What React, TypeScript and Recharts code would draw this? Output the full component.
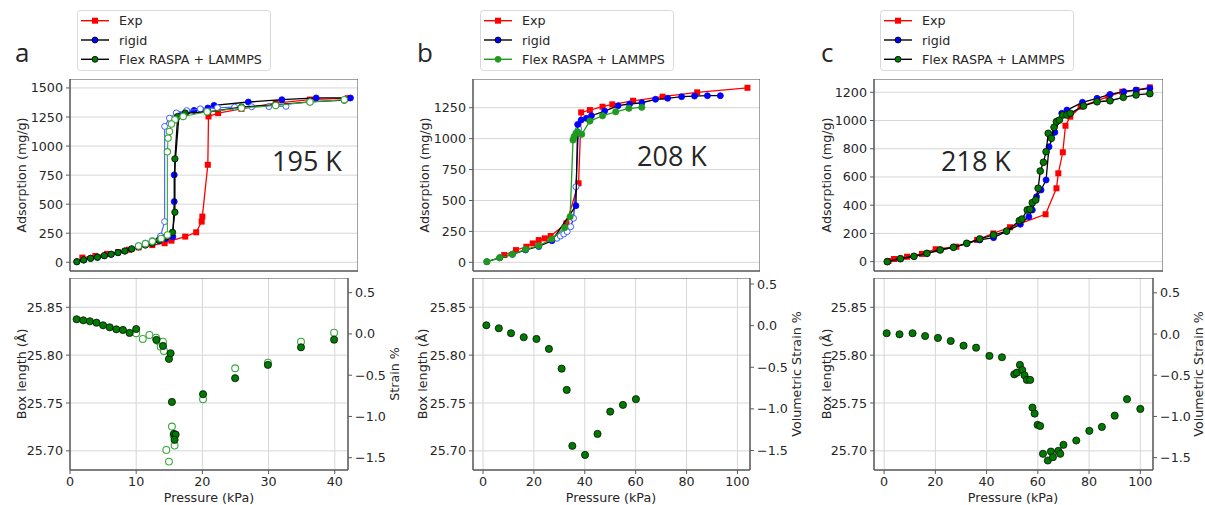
import React from 'react';
import { ComposedChart, Scatter, XAxis, YAxis, CartesianGrid, ReferenceArea } from 'recharts';

// ---- panel a (195 K) ----
const aExpP = [1.8, 3.7, 5.4, 7.0, 8.6, 10.0, 12.0, 13.8, 14.8, 16.8, 18.4, 19.2, 19.3, 20.1, 20.2, 21.6, 25.0, 30.0, 35.0, 40.5];
const aExpAds = [40, 54, 72, 88, 108, 128, 148, 164, 186, 221, 258, 350, 393, 839, 1255, 1284, 1320, 1370, 1400, 1412];
const aRigidAdsP = [1, 2, 3, 4, 5, 6, 7, 8, 9, 10, 11, 12, 13, 14, 15.0, 15.2, 15.2, 15.9, 17.1, 18.1, 19.1, 20.1, 21.0, 26.0, 30.9, 35.9, 40.9];
const aRigidAds = [5, 20, 34, 43, 57, 69, 83, 97, 115, 134, 150, 165, 185, 205, 220, 522, 752, 1270, 1298, 1307, 1313, 1327, 1350, 1379, 1399, 1414, 1414];
const aRigidDesP = [31.5, 29, 26.5, 24, 21.5, 19, 17, 15.5, 14.5, 13.8, 13.8, 13.2, 12.0, 11.0, 10.0];
const aRigidDes = [1342, 1340, 1338, 1335, 1330, 1320, 1305, 1285, 1240, 1169, 350, 225, 185, 165, 143];
const aFlexAdsP = [1, 2, 3, 4, 5, 6, 7, 8, 9, 10, 11, 12, 13, 14.05, 14.95, 15.3, 15.3, 15.7, 16.8, 20.1, 25, 30, 35, 40];
const aFlexAds = [5, 20, 34, 43, 57, 69, 83, 97, 115, 134, 148, 163, 190, 221, 258, 431, 890, 1255, 1284, 1293, 1335, 1355, 1380, 1395];
const aFlexDesP = [40, 35, 30, 25, 20, 16.5, 15.3, 14.8, 14.5, 14.3, 14.2, 14.2, 13.3, 12, 11, 10];
const aFlexDes = [1399, 1379, 1350, 1327, 1295, 1255, 1227, 1190, 1126, 1069, 950, 235, 205, 180, 160, 140];
const aBoxAdsP = [1, 2, 3, 4, 5, 6, 7, 8, 9, 10, 13.05, 14.05, 14.95, 15.2, 15.4, 15.7, 15.96, 15.8, 20.1, 24.95, 29.9, 34.9, 39.9];
const aBoxAds = [25.8375, 25.8364, 25.8354, 25.8339, 25.8312, 25.8291, 25.827, 25.8263, 25.8232, 25.8273, 25.8159, 25.8096, 25.796, 25.802, 25.7511, 25.7177, 25.717, 25.7115, 25.7592, 25.7759, 25.7898, 25.8082, 25.8162];
const aBoxDesP = [10, 11, 12, 13, 13.3, 13.7, 14.05, 14.2, 14.55, 14.95, 15.4, 15.65, 15.8, 20.1, 24.95, 29.9, 34.9, 39.9];
const aBoxDes = [25.8229, 25.8169, 25.8211, 25.8183, 25.8148, 25.8089, 25.8141, 25.8044, 25.701, 25.6888, 25.7254, 25.716, 25.7055, 25.754, 25.7863, 25.7922, 25.8141, 25.8235];

// ---- panel b (208 K) ----
const bExpP = [7.9, 12.35, 16.3, 18.7, 21.0, 23.3, 25.5, 31.5, 36.1, 37.1, 40.4, 45.2, 48.9, 56.8, 68.0, 81.1, 100.2];
const bExpAds = [59, 99, 126, 153, 180, 194, 213, 315, 639, 1212, 1231, 1258, 1277, 1306, 1339, 1374, 1411];
const bRigidAdsP = [1.3, 6.2, 11.0, 16.0, 21.0, 26.0, 35.1, 35.75, 37.1, 39.05, 41.0, 46.0, 51.1, 55.5, 60.1, 65.3, 69.9, 75.2, 80.1, 85.0, 89.9];
const bRigidAds = [5, 37, 65, 100, 128, 175, 458, 1115, 1150, 1164, 1185, 1223, 1266, 1280, 1290, 1318, 1326, 1339, 1344, 1347, 1347];
const bRigidDesP = [27.9, 29.2, 30.5, 31.8, 33.1, 34.2, 35.1, 36.1];
const bRigidDes = [194, 213, 229, 248, 288, 356, 611, 1078];
const bFlexP = [1.3, 6.2, 11.0, 16.0, 21.0, 25.9, 30.8, 32.9, 34.0, 34.4, 35.1, 35.7, 37.3, 40.4, 45.2, 50.2, 55.2, 60.1];
const bFlexAds = [5, 37, 65, 105, 134, 188, 280, 369, 989, 1015, 1043, 1056, 1035, 1142, 1185, 1217, 1245, 1253];
const bBoxP = [1.3, 6.2, 11.0, 16.0, 21.0, 25.9, 30.9, 32.9, 35.1, 40.1, 45.0, 50.0, 55.0, 60.1];
const bBox = [25.8312, 25.8281, 25.8229, 25.8187, 25.8169, 25.8065, 25.7859, 25.7637, 25.7052, 25.6958, 25.7177, 25.741, 25.748, 25.754];

// ---- panel c (218 K) ----
const cExpP = [1.5, 3.6, 8.5, 14.1, 19.3, 27.1, 34.9, 41, 47.3, 60.7, 64.8, 65.5, 67.2, 68.2, 70.0, 73.9, 84.4, 89.6, 95, 100];
const cExpAds = [5, 19, 35, 55, 88, 106, 154, 200, 244, 336, 520, 626, 775, 963, 1027, 1098, 1169, 1204, 1215, 1235];
const cRigidP = [1.05, 6.0, 11.1, 16.0, 21.0, 26.0, 31.0, 35.9, 41.1, 46.0, 51.2, 54.4, 55.7, 57.3, 59.0, 60.9, 62.0, 64.2, 66.8, 68.75, 74.6, 80.1, 85.0, 90.2, 94.8, 100];
const cRigidAds = [0, 21, 38, 59, 83, 102, 130, 154, 170, 215, 265, 319, 366, 460, 508, 579, 814, 916, 1051, 1074, 1129, 1157, 1185, 1204, 1216, 1228];
const cFlexP = [1.05, 6.0, 11.1, 16.0, 21.0, 26.0, 31.0, 35.9, 41.1, 46.0, 50.8, 51.8, 53.8, 54.8, 55.7, 57.0, 57.9, 58.7, 59.9, 60.9, 61.7, 62.9, 63.9, 64.8, 65.9, 67.2, 68.75, 70.0, 75.0, 80.1, 85.0, 90.0, 94.8, 100];
const cFlexAds = [0, 21, 38, 59, 83, 102, 130, 161, 189, 217, 290, 302, 366, 371, 418, 437, 520, 642, 704, 779, 909, 874, 952, 992, 1003, 1039, 1039, 1051, 1103, 1133, 1140, 1164, 1181, 1190];
const cBoxP = [1.0, 6.0, 11.1, 16.0, 21.0, 26.0, 31.0, 35.9, 41.1, 46.0, 50.8, 51.8, 53.0, 53.9, 54.8, 55.7, 57.0, 57.9, 58.75, 59.9, 60.9, 62.0, 63.9, 65.1, 65.9, 68.0, 68.75, 70.0, 75.0, 80.1, 85.0, 90.0, 94.8, 100];
const cBox = [25.8229, 25.8218, 25.8229, 25.820, 25.818, 25.8148, 25.8099, 25.8078, 25.7992, 25.7978, 25.78, 25.7817, 25.7898, 25.7845, 25.779, 25.7741, 25.7741, 25.7452, 25.7389, 25.7271, 25.726, 25.6969, 25.6899, 25.6993, 25.6934, 25.70, 25.6969, 25.7063, 25.7108, 25.7209, 25.725, 25.7368, 25.754, 25.7438];

// ticks
const xTicksA = [0, 10, 20, 30, 40];
const xTicksBC = [0, 20, 40, 60, 80, 100];
const yTicksA = [0, 250, 500, 750, 1000, 1250, 1500];
const yTicksB = [0, 250, 500, 750, 1000, 1250];
const yTicksC = [0, 200, 400, 600, 800, 1000, 1200];
const boxTicks = [25.7, 25.75, 25.8, 25.85];
const strainTicks = [-1.5, -1.0, -0.5, 0.0, 0.5];
const legendLabels = ['Exp', 'rigid', 'Flex RASPA + LAMMPS'];

const pts = (xs: number[], ys: number[]) => xs.map((x, i) => ({ x, y: ys[i] }));

const FONT = 'DejaVu Sans';
const TXT = '#262626';
const SPINE = '#5a5a5a';
const FS = 12.7;
const RED = '#ff0000';
const BLUE = '#0000ff';
const GREEN = '#007a00';
const OPEN_GREEN = '#3aa83a';
const OPEN_BLUE = '#4060ff';
const B_GREEN = '#1f9a1f';

const square = (fill: string) => (p: any) => (
  <rect x={p.cx - 3} y={p.cy - 3} width={6} height={6} fill={fill} />
);
const circle = (fill: string, stroke: string, r = 3.2, sw = 0.8) => (p: any) => (
  <circle cx={p.cx} cy={p.cy} r={r} fill={fill} stroke={stroke} strokeWidth={sw} />
);

const minus = (s: string) => s.replace('-', '\u2212');
const fmtInt = (v: number) => String(v);
const fmt2 = (v: number) => v.toFixed(2);
const fmt1 = (v: number) => minus(v.toFixed(1));

type PanelProps = {
  left: number;
  top: number;
  w: number;
  h: number;
  xDomain: number[];
  xTicks: number[];
  yDomain: number[];
  yTicks: number[];
  yFmt: (v: number) => string;
  xLabels: boolean;
  rDomain?: number[];
  children?: React.ReactNode;
};

const tickStyle = { fill: TXT, fontSize: FS, fontFamily: FONT };

function Panel({ left, top, w, h, xDomain, xTicks, yDomain, yTicks, yFmt, xLabels, rDomain, children }: PanelProps) {
  const YW = 60;
  const RW = rDomain ? 50 : 10;
  const XH = 30;
  return (
    <div style={{ position: 'absolute', left: left - YW, top }}>
      <ComposedChart width={YW + w + RW} height={h + XH} margin={{ top: 0, right: 0, bottom: 0, left: 0 }}>
        <CartesianGrid stroke="#d6d6d6" strokeWidth={1} />
        <XAxis
          type="number"
          dataKey="x"
          domain={xDomain}
          ticks={xTicks}
          interval={0}
          allowDataOverflow
          height={XH}
          tick={xLabels ? tickStyle : false}
          tickSize={4}
          tickMargin={3}
          axisLine={{ stroke: SPINE }}
          tickLine={{ stroke: SPINE }}
        />
        <YAxis
          type="number"
          dataKey="y"
          domain={yDomain}
          ticks={yTicks}
          interval={0}
          allowDataOverflow
          width={YW}
          tickFormatter={yFmt}
          tick={tickStyle}
          tickSize={4}
          tickMargin={3}
          axisLine={{ stroke: SPINE }}
          tickLine={{ stroke: SPINE }}
        />
        {rDomain && (
          <YAxis
            yAxisId="r"
            orientation="right"
            type="number"
            domain={rDomain}
            ticks={strainTicks}
            interval={0}
            allowDataOverflow
            width={RW}
            tickFormatter={fmt1}
            tick={tickStyle}
            tickSize={4}
            tickMargin={3}
            axisLine={{ stroke: SPINE }}
            tickLine={{ stroke: SPINE }}
          />
        )}
        <ReferenceArea x1={xDomain[0]} x2={xDomain[1]} y1={yDomain[0]} y2={yDomain[1]} fill="none" stroke={SPINE} strokeWidth={1} />
        {children}
      </ComposedChart>
    </div>
  );
}

const topY = 79;
const topH = 192;
const botY = 278;
const botH = 192;
const boxDomain = [25.68, 25.8806];

const A = { left: 70, w: 278, x: [0, 42] };
const B = { left: 473, w: 277, x: [-3.95, 104.95] };
const C = { left: 874, w: 279, x: [-3.95, 104.95] };

function Legend({ left, flexColor, flexLine }: { left: number; flexColor: string; flexLine: string }) {
  const rows = [
    { line: RED, marker: 'square', fill: RED, edge: RED },
    { line: '#000', marker: 'circle', fill: BLUE, edge: '#000' },
    { line: flexLine, marker: 'circle', fill: flexColor, edge: flexLine === '#000' ? '#000' : flexColor },
  ];
  return (
    <g>
      <rect x={left + 0.5} y={10.5} width={193} height={60} rx={3} fill="#fff" stroke="#d9d9d9" />
      {rows.map((r, i) => {
        const cy = 20.7 + i * 19.3;
        return (
          <g key={i}>
            <line x1={left + 4} x2={left + 32} y1={cy} y2={cy} stroke={r.line} strokeWidth={1.4} />
            {r.marker === 'square' ? (
              <rect x={left + 15} y={cy - 3} width={6} height={6} fill={r.fill} />
            ) : (
              <circle cx={left + 18} cy={cy} r={3} fill={r.fill} stroke={r.edge} strokeWidth={0.8} />
            )}
            <text x={left + 42} y={cy + 4.5} fontSize={FS} fontFamily={FONT} fill={TXT}>
              {legendLabels[i]}
            </text>
          </g>
        );
      })}
    </g>
  );
}

function VLabel({ x, y, text }: { x: number; y: number; text: string }) {
  return (
    <text x={x} y={y} textAnchor="middle" dominantBaseline="central" transform={`rotate(-90 ${x} ${y})`} fontSize={FS} fontFamily={FONT} fill={TXT}>
      {text}
    </text>
  );
}

export default function App() {
  const redLine = { stroke: RED, strokeWidth: 1.3 };
  const blackLine = { stroke: '#000', strokeWidth: 1.3 };
  return (
    <div style={{ position: 'absolute', left: 0, top: 0, width: 1205, height: 505, background: '#fff', overflow: 'hidden' }}>
      {/* panel a */}
      <Panel left={A.left} top={topY} w={A.w} h={topH} xDomain={A.x} xTicks={xTicksA} yDomain={[-75, 1577]} yTicks={yTicksA} yFmt={fmtInt} xLabels={false}>
        <Scatter data={pts(aExpP, aExpAds)} line={redLine} shape={square(RED)} isAnimationActive={false} />
        <Scatter data={pts(aRigidAdsP, aRigidAds)} line={blackLine} shape={circle(BLUE, BLUE, 3)} isAnimationActive={false} />
        <Scatter data={pts(aRigidDesP, aRigidDes)} line={{ stroke: OPEN_BLUE, strokeWidth: 1.1 }} shape={circle('#fff', OPEN_BLUE, 3, 1)} isAnimationActive={false} />
        <Scatter data={pts(aFlexAdsP, aFlexAds)} line={blackLine} shape={circle(GREEN, '#000', 3.2, 0.7)} isAnimationActive={false} />
        <Scatter data={pts(aFlexDesP, aFlexDes)} line={{ stroke: OPEN_GREEN, strokeWidth: 1.1 }} shape={circle('#fff', OPEN_GREEN, 3.2, 1.1)} isAnimationActive={false} />
      </Panel>
      <Panel left={A.left} top={botY} w={A.w} h={botH} xDomain={A.x} xTicks={xTicksA} yDomain={boxDomain} yTicks={boxTicks} yFmt={fmt2} xLabels rDomain={[-1.649, 0.678]}>
        <Scatter data={pts(aBoxDesP, aBoxDes)} shape={circle('#fff', OPEN_GREEN, 3.4, 1.1)} isAnimationActive={false} />
        <Scatter data={pts(aBoxAdsP, aBoxAds)} shape={circle(GREEN, '#000', 3.6, 0.7)} isAnimationActive={false} />
      </Panel>

      {/* panel b */}
      <Panel left={B.left} top={topY} w={B.w} h={topH} xDomain={B.x} xTicks={xTicksBC} yDomain={[-70, 1482]} yTicks={yTicksB} yFmt={fmtInt} xLabels={false}>
        <Scatter data={pts(bExpP, bExpAds)} line={redLine} shape={square(RED)} isAnimationActive={false} />
        <Scatter data={pts(bRigidDesP, bRigidDes)} line={{ stroke: BLUE, strokeWidth: 1.1 }} shape={circle('#fff', OPEN_BLUE, 3, 1)} isAnimationActive={false} />
        <Scatter data={pts(bRigidAdsP, bRigidAds)} line={blackLine} shape={circle(BLUE, BLUE, 3)} isAnimationActive={false} />
        <Scatter data={pts(bFlexP, bFlexAds)} line={{ stroke: B_GREEN, strokeWidth: 1.3 }} shape={circle(B_GREEN, B_GREEN, 3.2, 0.6)} isAnimationActive={false} />
      </Panel>
      <Panel left={B.left} top={botY} w={B.w} h={botH} xDomain={B.x} xTicks={xTicksBC} yDomain={boxDomain} yTicks={boxTicks} yFmt={fmt2} xLabels rDomain={[-1.734, 0.572]}>
        <Scatter data={pts(bBoxP, bBox)} shape={circle(GREEN, '#000', 3.6, 0.7)} isAnimationActive={false} />
      </Panel>

      {/* panel c */}
      <Panel left={C.left} top={topY} w={C.w} h={topH} xDomain={C.x} xTicks={xTicksBC} yDomain={[-66, 1294]} yTicks={yTicksC} yFmt={fmtInt} xLabels={false}>
        <Scatter data={pts(cExpP, cExpAds)} line={redLine} shape={square(RED)} isAnimationActive={false} />
        <Scatter data={pts(cRigidP, cRigidAds)} line={blackLine} shape={circle(BLUE, BLUE, 3)} isAnimationActive={false} />
        <Scatter data={pts(cFlexP, cFlexAds)} line={blackLine} shape={circle(GREEN, '#000', 3.4, 0.7)} isAnimationActive={false} />
      </Panel>
      <Panel left={C.left} top={botY} w={C.w} h={botH} xDomain={C.x} xTicks={xTicksBC} yDomain={boxDomain} yTicks={boxTicks} yFmt={fmt2} xLabels rDomain={[-1.65, 0.68]}>
        <Scatter data={pts(cBoxP, cBox)} shape={circle(GREEN, '#000', 3.6, 0.7)} isAnimationActive={false} />
      </Panel>

      <svg width={1205} height={505} style={{ position: 'absolute', left: 0, top: 0, pointerEvents: 'none' }}>
        <Legend left={77} flexColor={GREEN} flexLine="#000" />
        <Legend left={480} flexColor={B_GREEN} flexLine={B_GREEN} />
        <Legend left={880} flexColor={GREEN} flexLine="#000" />

        <text x={15} y={62} fontSize={26} fontFamily="Open Sans" fill={TXT}>a</text>
        <text x={417} y={62} fontSize={26} fontFamily="Open Sans" fill={TXT}>b</text>
        <text x={821} y={62} fontSize={26} fontFamily="Open Sans" fill={TXT}>c</text>

        <text x={272} y={171} fontSize={27} fontFamily="Open Sans" fill={TXT}>195 K</text>
        <text x={637} y={166} fontSize={27} fontFamily="Open Sans" fill={TXT}>208 K</text>
        <text x={941} y={171} fontSize={27} fontFamily="Open Sans" fill={TXT}>218 K</text>

        <VLabel x={21.5} y={175} text="Adsorption (mg/g)" />
        <VLabel x={424} y={175} text="Adsorption (mg/g)" />
        <VLabel x={826} y={175} text="Adsorption (mg/g)" />
        <VLabel x={21} y={374} text="Box length (Å)" />
        <VLabel x={422} y={374} text="Box length (Å)" />
        <VLabel x={826} y={374} text="Box length (Å)" />
        <VLabel x={394} y={374} text="Strain %" />
        <VLabel x={796} y={374} text="Volumetric Strain %" />
        <VLabel x={1198} y={374} text="Volumetric Strain %" />

        <text x={209} y={502} textAnchor="middle" fontSize={FS} fontFamily={FONT} fill={TXT}>Pressure (kPa)</text>
        <text x={611} y={502} textAnchor="middle" fontSize={FS} fontFamily={FONT} fill={TXT}>Pressure (kPa)</text>
        <text x={1013} y={502} textAnchor="middle" fontSize={FS} fontFamily={FONT} fill={TXT}>Pressure (kPa)</text>
      </svg>
    </div>
  );
}
